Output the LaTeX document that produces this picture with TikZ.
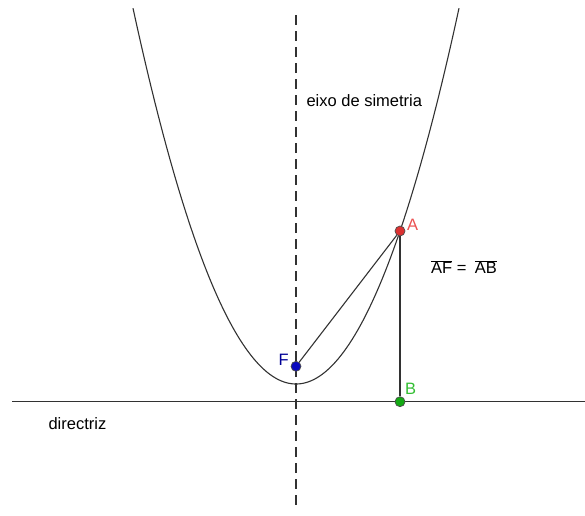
\documentclass[tikz,border=0pt]{standalone}
\usepackage{fontspec}
\setmainfont{Liberation Sans}
\usepackage{tikz}
\usetikzlibrary{positioning, calc}

\definecolor{curvegray}{RGB}{50,50,50}
\definecolor{ptred}{RGB}{220,50,50}
\definecolor{lblred}{RGB}{235,80,80}
\definecolor{ptblue}{RGB}{10,10,190}
\definecolor{lblblue}{RGB}{0,0,150}
\definecolor{ptgreen}{RGB}{20,170,20}
\definecolor{lblgreen}{RGB}{50,190,50}

\begin{document}
\begin{tikzpicture}[x=1pt, y=-1pt, font=\fontsize{16.5}{19}\selectfont,
    pt/.style={circle, inner sep=0pt, minimum size=10pt, draw=black!70, line width=0.7pt}]
    \useasboundingbox (0,0) rectangle (585,515);

    % Axis of symmetry (dashed)
    \coordinate (axtop) at (296,15);
    \coordinate (axbot) at (296,505);
    \draw[curvegray, line width=1.1pt, dash pattern=on 10pt off 6pt] (axtop) -- (axbot);
    \node[anchor=west] (eixo) at (303,101) {eixo de simetria};

    % Directrix
    \coordinate (dleft) at (12,401.7);
    \coordinate (dright) at (585,401.7);
    \draw[curvegray, line width=1.1pt] (dleft) -- (dright);
    \node[anchor=west] (dirlbl) at (45,424) {directriz};

    % Parabola with vertex (296,384), 4p = 70.7
    \draw[curvegray, line width=1.1pt, domain=-16.3:16.3, samples=120]
        plot ({296+10*\x}, {384-\x*\x/0.707});

    % Points
    \node[pt, fill=ptred] (A) at (400,231) {};
    \node[pt, fill=ptblue] (F) at (296,366.3) {};
    \node[pt, fill=ptgreen] (B) at (400,401.7) {};

    % Segments AF and AB
    \draw[curvegray, line width=1.1pt] (A) -- (F);
    \draw[curvegray, line width=1.1pt] (A) -- (B);

    % Labels
    \node[lblred, anchor=south west, inner sep=1pt] (Alabel) at (406,232) {A};
    \node[lblblue, anchor=east, inner sep=1pt] (Flabel) at (290,360) {F};
    \node[lblgreen, anchor=south west, inner sep=1pt] (Blabel) at (404,396) {B};
    \node[anchor=west, inner sep=0pt] (eq) at (431,267)
        {$\overline{\mbox{AF}}$ =\hspace{0.5em}$\overline{\mbox{AB}}$};
\end{tikzpicture}
\end{document}
